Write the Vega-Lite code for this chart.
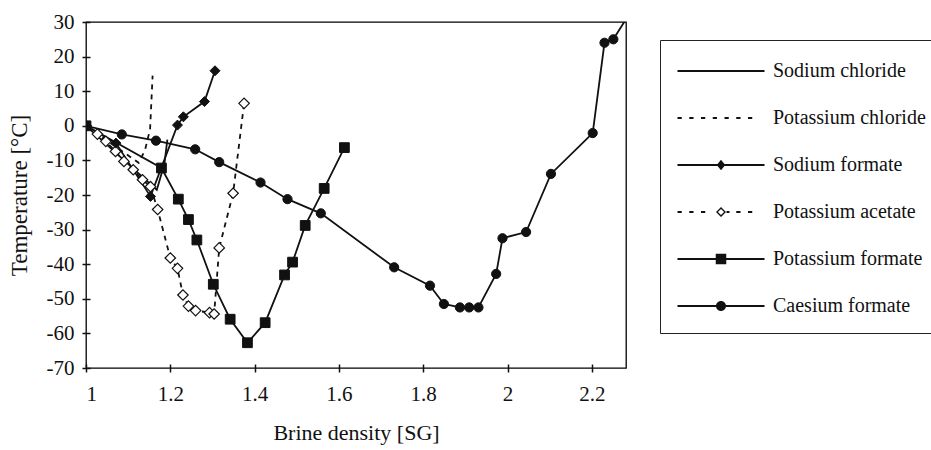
{
  "$schema": "https://vega.github.io/schema/vega-lite/v6.json",
  "width": 540,
  "height": 346,
  "autosize": "none",
  "padding": {"left": 86, "top": 22, "right": 305, "bottom": 82},
  "background": "white",
  "config": {
    "font": "Liberation Serif",
    "view": {"stroke": "black", "strokeWidth": 1.3},
    "axis": {
      "grid": false,
      "domain": false,
      "labelFont": "Liberation Serif",
      "titleFont": "Liberation Serif",
      "labelColor": "#111",
      "titleColor": "#111",
      "tickColor": "#111",
      "tickWidth": 1.5,
      "labelFontSize": 21,
      "titleFontSize": 22,
      "titleFontWeight": "normal"
    }
  },
  "data": {
    "values": [
      {"s": "Sodium chloride", "x": 1.0, "t": 0},
      {"s": "Sodium chloride", "x": 1.168, "t": -18.5},
      {"s": "Sodium chloride", "x": 1.186, "t": -11},
      {"s": "Sodium chloride", "x": 1.193, "t": -4},
      {"s": "Potassium chloride", "x": 1.0, "t": 0},
      {"s": "Potassium chloride", "x": 1.125, "t": -10.7},
      {"s": "Potassium chloride", "x": 1.14, "t": -7},
      {"s": "Potassium chloride", "x": 1.152, "t": -1},
      {"s": "Potassium chloride", "x": 1.158, "t": 14.5},
      {"s": "Sodium formate", "x": 1.0, "t": 0},
      {"s": "Sodium formate", "x": 1.071, "t": -5.0},
      {"s": "Sodium formate", "x": 1.153, "t": -20.4},
      {"s": "Sodium formate", "x": 1.217, "t": 0.2},
      {"s": "Sodium formate", "x": 1.231, "t": 2.6},
      {"s": "Sodium formate", "x": 1.281, "t": 7.0},
      {"s": "Sodium formate", "x": 1.306, "t": 15.9},
      {"s": "Potassium acetate", "x": 1.0, "t": 0},
      {"s": "Potassium acetate", "x": 1.027, "t": -2.4},
      {"s": "Potassium acetate", "x": 1.047, "t": -4.5},
      {"s": "Potassium acetate", "x": 1.07, "t": -7.4},
      {"s": "Potassium acetate", "x": 1.09, "t": -10.3},
      {"s": "Potassium acetate", "x": 1.112, "t": -12.7},
      {"s": "Potassium acetate", "x": 1.134, "t": -15.6},
      {"s": "Potassium acetate", "x": 1.153, "t": -17.6},
      {"s": "Potassium acetate", "x": 1.17, "t": -24.2},
      {"s": "Potassium acetate", "x": 1.2, "t": -38.2},
      {"s": "Potassium acetate", "x": 1.217, "t": -41.2},
      {"s": "Potassium acetate", "x": 1.23, "t": -48.9},
      {"s": "Potassium acetate", "x": 1.243, "t": -52.1},
      {"s": "Potassium acetate", "x": 1.26, "t": -53.4},
      {"s": "Potassium acetate", "x": 1.293, "t": -54.0},
      {"s": "Potassium acetate", "x": 1.304, "t": -54.4},
      {"s": "Potassium acetate", "x": 1.316, "t": -35.3},
      {"s": "Potassium acetate", "x": 1.349, "t": -19.5},
      {"s": "Potassium acetate", "x": 1.375, "t": 6.5},
      {"s": "Potassium formate", "x": 1.0, "t": 0},
      {"s": "Potassium formate", "x": 1.179, "t": -12.2},
      {"s": "Potassium formate", "x": 1.219, "t": -21.2},
      {"s": "Potassium formate", "x": 1.243, "t": -27.1},
      {"s": "Potassium formate", "x": 1.263, "t": -33.0},
      {"s": "Potassium formate", "x": 1.302, "t": -45.8},
      {"s": "Potassium formate", "x": 1.342, "t": -55.9},
      {"s": "Potassium formate", "x": 1.383, "t": -62.7},
      {"s": "Potassium formate", "x": 1.425, "t": -56.9},
      {"s": "Potassium formate", "x": 1.471, "t": -43.1},
      {"s": "Potassium formate", "x": 1.49, "t": -39.4},
      {"s": "Potassium formate", "x": 1.52, "t": -28.8},
      {"s": "Potassium formate", "x": 1.565, "t": -18.1},
      {"s": "Potassium formate", "x": 1.613, "t": -6.3},
      {"s": "Caesium formate", "x": 1.0, "t": 0},
      {"s": "Caesium formate", "x": 1.085, "t": -2.5},
      {"s": "Caesium formate", "x": 1.166, "t": -4.3},
      {"s": "Caesium formate", "x": 1.259, "t": -6.8},
      {"s": "Caesium formate", "x": 1.316, "t": -10.5},
      {"s": "Caesium formate", "x": 1.414, "t": -16.4},
      {"s": "Caesium formate", "x": 1.478, "t": -21.2},
      {"s": "Caesium formate", "x": 1.557, "t": -25.3},
      {"s": "Caesium formate", "x": 1.731, "t": -40.9},
      {"s": "Caesium formate", "x": 1.816, "t": -46.2},
      {"s": "Caesium formate", "x": 1.849, "t": -51.5},
      {"s": "Caesium formate", "x": 1.887, "t": -52.5},
      {"s": "Caesium formate", "x": 1.909, "t": -52.5},
      {"s": "Caesium formate", "x": 1.931, "t": -52.5},
      {"s": "Caesium formate", "x": 1.973, "t": -42.8},
      {"s": "Caesium formate", "x": 1.988, "t": -32.5},
      {"s": "Caesium formate", "x": 2.044, "t": -30.7},
      {"s": "Caesium formate", "x": 2.103, "t": -13.9},
      {"s": "Caesium formate", "x": 2.202, "t": -2.1},
      {"s": "Caesium formate", "x": 2.23, "t": 24.0},
      {"s": "Caesium formate", "x": 2.251, "t": 25.0},
      {"s": "Caesium formate", "x": 2.3, "t": 34.5}
    ]
  },
  "encoding": {
    "x": {
      "field": "x",
      "type": "quantitative",
      "scale": {"domain": [1, 2.281], "nice": false, "zero": false},
      "axis": {
        "title": "Brine density [SG]",
        "values": [1, 1.2, 1.4, 1.6, 1.8, 2, 2.2],
        "format": "~g",
        "offset": -4,
        "tickSize": 8,
        "labelPadding": 11,
        "titlePadding": 18
      }
    },
    "y": {
      "field": "t",
      "type": "quantitative",
      "scale": {"domain": [-70, 30], "nice": false, "zero": false},
      "axis": {
        "title": "Temperature [°C]",
        "titleFontSize": 23,
        "values": [-70, -60, -50, -40, -30, -20, -10, 0, 10, 20, 30],
        "labelExpr": "replace(datum.label, '−', '-')",
        "offset": -4,
        "tickSize": 8,
        "labelPadding": 8,
        "titlePadding": 15
      }
    }
  },
  "layer": [
    {
      "transform": [{"filter": "datum.s !== 'Potassium chloride' && datum.s !== 'Potassium acetate'"}],
      "mark": {"type": "line", "clip": true, "color": "#111", "strokeWidth": 1.8},
      "encoding": {"detail": {"field": "s", "type": "nominal"}}
    },
    {
      "transform": [{"filter": "datum.s === 'Potassium chloride' || datum.s === 'Potassium acetate'"}],
      "mark": {"type": "line", "clip": true, "color": "#111", "strokeWidth": 1.8, "strokeDash": [5, 5]},
      "encoding": {"detail": {"field": "s", "type": "nominal"}}
    },
    {
      "transform": [{"filter": "datum.s === 'Potassium acetate'"}],
      "mark": {"type": "point", "clip": true, "shape": "diamond", "filled": true, "fill": "white", "stroke": "#111", "strokeWidth": 1.2, "size": 110, "opacity": 1}
    },
    {
      "transform": [{"filter": "datum.s === 'Sodium formate'"}],
      "mark": {"type": "point", "clip": true, "shape": "diamond", "filled": true, "fill": "#111", "stroke": "#111", "strokeWidth": 1, "size": 100, "opacity": 1}
    },
    {
      "transform": [{"filter": "datum.s === 'Caesium formate'"}],
      "mark": {"type": "point", "clip": true, "shape": "circle", "filled": true, "fill": "#111", "stroke": "#111", "strokeWidth": 1, "size": 85, "opacity": 1}
    },
    {
      "transform": [{"filter": "datum.s === 'Potassium formate'"}],
      "mark": {"type": "point", "clip": true, "shape": "square", "filled": true, "fill": "#111", "stroke": "#111", "strokeWidth": 1, "size": 95, "opacity": 1}
    },
    {
      "transform": [{"filter": "datum.x > 2.29"}],
      "mark": {"type": "point", "clip": true, "filled": true, "color": "#111"},
      "encoding": {
        "shape": {
          "field": "s",
          "type": "nominal",
          "scale": {
            "domain": ["Sodium chloride", "Potassium chloride", "Sodium formate", "Potassium acetate", "Potassium formate", "Caesium formate"],
            "range": [
              "M-8.7,-0.2H8.7V0.2H-8.7Z",
              "M-8.7,-0.2H-7.85V0.2H-8.7ZM-6.35,-0.2H-5.5V0.2H-6.35ZM-4,-0.2H-3.15V0.2H-4ZM-1.65,-0.2H-0.8V0.2H-1.65ZM0.7,-0.2H1.55V0.2H0.7ZM3.05,-0.2H3.9V0.2H3.05ZM5.4,-0.2H6.25V0.2H5.4Z",
              "M-8.7,-0.2H-0.6V0.2H-8.7ZM0.6,-0.2H8.7V0.2H0.6ZM0,-1.05L0.85,0L0,1.05L-0.85,0Z",
              "M-8.7,-0.2H-7.85V0.2H-8.7ZM-6.35,-0.2H-5.5V0.2H-6.35ZM-4,-0.2H-3.15V0.2H-4ZM0,-1L1,0L0,1L-1,0ZM0,-0.62L-0.62,0L0,0.62L0.62,0ZM1.1,-0.2H1.7V0.2H1.1ZM3.05,-0.2H3.9V0.2H3.05ZM5.4,-0.2H6.25V0.2H5.4Z",
              "M-8.7,-0.2H-0.95V0.2H-8.7ZM0.95,-0.2H8.7V0.2H0.95ZM-1.05,-1.05H1.05V1.05H-1.05Z",
              "M-8.7,-0.2H-0.85V0.2H-8.7ZM0.85,-0.2H8.7V0.2H0.85ZM1,0A1,1,0,1,1,-1,0A1,1,0,1,1,1,0Z"
            ]
          },
          "legend": {
            "title": " ",
            "titleFontSize": 1,
            "titlePadding": 3,
            "orient": "none",
            "legendX": 574,
            "legendY": 18,
            "strokeColor": "#222",
            "fillColor": "white",
            "padding": 17,
            "symbolSize": 100,
            "symbolOffset": 34,
            "symbolOpacity": 1,
            "symbolFillColor": "#111",
            "symbolStrokeWidth": 1.4,
            "labelOffset": 42,
            "rowPadding": 27,
            "labelFontSize": 20,
            "labelFont": "Liberation Serif",
            "labelColor": "#111",
            "labelLimit": 400
          }
        }
      }
    }
  ]
}
